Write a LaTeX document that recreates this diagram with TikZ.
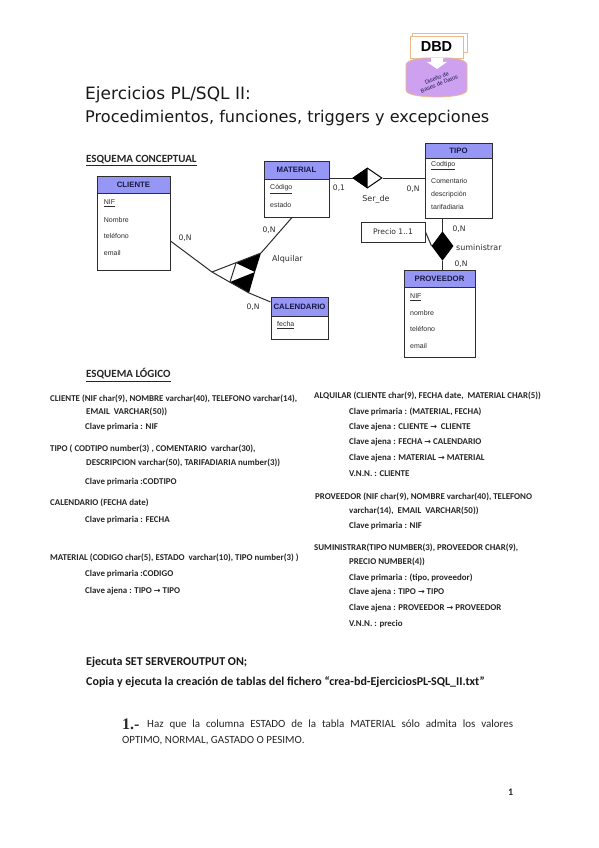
\documentclass[tikz,border=0pt]{standalone}
\usepackage{fontspec}
\setmainfont{Carlito}
\newfontfamily\arl{Liberation Sans}
\newfontfamily\vrd{DejaVu Sans}
\newfontfamily\srf{Liberation Serif}
\usetikzlibrary{shapes.geometric}
\definecolor{hdr}{RGB}{150,150,245}
\definecolor{navy}{RGB}{25,25,70}
\definecolor{ink}{RGB}{45,45,45}
\definecolor{logopur}{RGB}{205,160,240}
\definecolor{logoor}{RGB}{235,185,140}
\newcommand{\ar}{{\vrd\fontsize{8}{9}\selectfont →}}
\tikzset{
  entity/.style={draw=ink,line width=1pt,fill=white,inner sep=0},
  header/.style={draw=ink,line width=1pt,fill=hdr,inner sep=0,text=navy,font=\arl\bfseries\fontsize{7.8}{9}\selectfont},
  attr/.style={anchor=west,inner sep=0,text=ink,font=\arl\fontsize{7}{8}\selectfont},
  card/.style={inner sep=0,text=ink,font=\vrd\fontsize{7.6}{9}\selectfont},
  lbl/.style={anchor=west,inner sep=0,text=ink,font=\vrd\fontsize{8}{10}\selectfont},
  logic/.style={anchor=west,inner sep=0,text=black!85,text height=6pt,text depth=2pt,font=\bfseries\fontsize{8.9}{10}\selectfont},
  heading/.style={anchor=west,inner sep=0,text=black!85,font=\bfseries\fontsize{11}{13}\selectfont},
  main/.style={anchor=west,inner sep=0,text=black!90,text height=8pt,text depth=3pt,font=\bfseries\fontsize{12}{14}\selectfont},
  para/.style={anchor=west,inner sep=0,text=black!85,text height=7pt,text depth=2pt,font=\fontsize{11}{13}\selectfont},
  titletext/.style={anchor=west,inner sep=0,text=black!90,font=\vrd\fontsize{16.1}{19}\selectfont},
  conn/.style={draw=ink,line width=1pt},
  rel/.style={diamond,draw=black,line width=1pt,inner sep=0,fill=white}
}
\begin{document}
\begin{tikzpicture}[x=1pt,y=-1pt]
\useasboundingbox (0,0) rectangle (599,848);
\fill[white] (0,0) rectangle (599,848);

% logo
\path[fill=white,draw=logoor,line width=.8pt] (412,33) rectangle (467,52);
\node (sheet) [draw=logoor,fill=white,line width=.8pt,minimum width=53,minimum height=22,inner sep=0] at (436.5,47) {};
\path[fill=logopur,draw=logoor,line width=.8pt] (406,65) .. controls (406,60) and (420,58) .. (425,58) -- (449,58) .. controls (455,58) and (467,60) .. (467,65) -- (467,90) .. controls (467,96) and (445,97) .. (436.5,97) .. controls (428,97) and (406,96) .. (406,90) -- cycle;
\fill[white] (431,58) -- (431,62) -- (427,62) -- (437,69) -- (447,62) -- (443,62) -- (443,58) -- cycle;
\node (dbd) [inner sep=0,font=\arl\bfseries\fontsize{14.5}{16}\selectfont,text=black] at (436.5,47) {DBD};
\node (logotext) [inner sep=0,rotate=22,align=center,text=navy,font=\arl\fontsize{5.6}{6.6}\selectfont] at (438,81) {Diseño de\\Bases de Datos};

% title
\node (t1) [titletext,font=\vrd\fontsize{17}{19}\selectfont] at (85,95) {Ejercicios PL/SQL II:};
\node (t2) [titletext] at (85,118) {Procedimientos, funciones, triggers y excepciones};

\node (h1) [heading] at (86,161) {\underline{ESQUEMA CONCEPTUAL}};

% entities
\node (cliente) [entity,minimum width=73,minimum height=94] at (133.5,223) {};
\node (clienteh) [header,minimum width=73,minimum height=17] at (133.5,184.5) {CLIENTE};
\node (c1) [attr] at (103.7,203) {\underline{NIF}};
\node (c2) [attr] at (103.7,220) {Nombre};
\node (c3) [attr] at (103.7,236) {teléfono};
\node (c4) [attr] at (103.7,253) {email};

\node (material) [entity,minimum width=65,minimum height=56] at (296.5,189) {};
\node (materialh) [header,minimum width=65,minimum height=18] at (296.5,170) {MATERIAL};
\node (m1) [attr] at (270,189) {\underline{Código}};
\node (m2) [attr] at (270,205) {estado};

\node (calendario) [entity,minimum width=57,minimum height=42] at (299.5,318) {};
\node (calendarioh) [header,minimum width=57,minimum height=19] at (299.5,306.5) {CALENDARIO};
\node (k1) [attr] at (277,325) {\underline{fecha}};

\node (tipo) [entity,minimum width=67,minimum height=75] at (458.5,180.5) {};
\node (tipoh) [header,minimum width=67,minimum height=15] at (458.5,150.5) {TIPO};
\node (ti1) [attr] at (431,166) {\underline{Codtipo}};
\node (ti2) [attr] at (431,180.5) {Comentario};
\node (ti3) [attr] at (431,194.5) {descripción};
\node (ti4) [attr] at (431,207) {tarifadiaria};

\node (proveedor) [entity,minimum width=71,minimum height=87] at (439.5,313.5) {};
\node (proveedorh) [header,minimum width=71,minimum height=17] at (439.5,278.5) {PROVEEDOR};
\node (p1) [attr] at (410,297) {\underline{NIF}};
\node (p2) [attr] at (410,313) {nombre};
\node (p3) [attr] at (410,329) {teléfono};
\node (p4) [attr] at (410,346) {email};

\node (precio) [entity,minimum width=64,minimum height=20,font=\vrd\fontsize{7.6}{9}\selectfont,text=ink] at (393,232) {Precio 1..1};

% relationships
\node (serde) [rel,minimum width=29,minimum height=20,shape aspect=1.45] at (367.5,178) {};
\fill[black] (serde.north) -- (serde.west) -- (serde.south) -- cycle;
\node (sumi) [rel,fill=black,minimum width=21,minimum height=28,shape aspect=.75] at (442.5,246) {};

\draw[conn] (serde.west) -- (serde.west -| material.east);
\draw[conn] (serde.east) -- (serde.east -| tipo.west);
\draw[conn] (sumi.north) -- (sumi.north |- tipo.south);
\draw[conn] (sumi.south) -- (sumi.south |- proveedor.north);
\draw[conn] (precio.east) -- (sumi.west);

% ternary relationship
\coordinate (alqA) at (212,272);
\coordinate (alqB) at (261,253);
\coordinate (alqC) at (249,293);
\coordinate (alqM) at (255,272);
\coordinate (alqP) at (236,263);
\coordinate (alqQ) at (230,282);
\fill[black] (alqP) -- (alqB) -- (alqM) -- cycle;
\fill[black] (alqQ) -- (alqM) -- (alqC) -- cycle;
\draw[conn] (alqA) -- (alqB);
\draw[conn] (alqA) -- (alqC);
\draw[conn] (alqP) -- (alqQ);
\draw[conn] (cliente.-26) -- (alqA);
\draw[conn] (material.-99) -- (alqB);
\draw[conn] (calendario.151) -- (alqC);

% labels
\node (n1) [card] at (185,238) {0,N};
\node (n2) [card] at (269,230) {0,N};
\node (n3) [card] at (253,307) {0,N};
\node (n4) [card] at (339,188) {0,1};
\node (n5) [card] at (413,189) {0,N};
\node (n6) [card] at (459,229) {0,N};
\node (n7) [card] at (461,264) {0,N};
\node (alq) [lbl] at (272,259) {Alquilar};
\node (ser) [lbl,anchor=center] at (376,199) {Ser\_de};
\node (sum) [lbl] at (456,248) {suministrar};

% logical schema
\node (h2) [heading] at (86,375) {\underline{ESQUEMA LÓGICO}};
\node (l1) [logic] at (50,399) {CLIENTE (NIF char(9), NOMBRE varchar(40), TELEFONO varchar(14),};
\node (l2) [logic] at (86,412) {EMAIL\ \ VARCHAR(50))};
\node (l3) [logic] at (85,427) {Clave primaria : NIF};
\node (l4) [logic] at (50,449) {TIPO ( CODTIPO number(3) , COMENTARIO\ \ varchar(30),};
\node (l5) [logic] at (86,463) {DESCRIPCION varchar(50), TARIFADIARIA number(3))};
\node (l6) [logic] at (85,482) {Clave primaria :CODTIPO};
\node (l7) [logic] at (50,503) {CALENDARIO (FECHA date)};
\node (l8) [logic] at (85,520) {Clave primaria : FECHA};
\node (l9) [logic] at (50,558) {MATERIAL (CODIGO char(5), ESTADO\ \ varchar(10), TIPO number(3) )};
\node (l10) [logic] at (85,574) {Clave primaria :CODIGO};
\node (l11) [logic] at (85,591) {Clave ajena : TIPO \ar\ TIPO};

\node (r1) [logic] at (314,396) {ALQUILAR (CLIENTE char(9), FECHA date,\ \ MATERIAL CHAR(5))};
\node (r2) [logic] at (349,412) {Clave primaria : (MATERIAL, FECHA)};
\node (r3) [logic] at (349,427) {Clave ajena : CLIENTE \ar\ \ CLIENTE};
\node (r4) [logic] at (349,442) {Clave ajena : FECHA \ar\ CALENDARIO};
\node (r5) [logic] at (349,458) {Clave ajena : MATERIAL \ar\ MATERIAL};
\node (r6) [logic] at (349,474) {V.N.N. : CLIENTE};
\node (r7) [logic] at (315,497) {PROVEEDOR (NIF char(9), NOMBRE varchar(40), TELEFONO};
\node (r8) [logic] at (349,511) {varchar(14),\ \ EMAIL\ \ VARCHAR(50))};
\node (r9) [logic] at (349,526) {Clave primaria : NIF};
\node (r10) [logic] at (314,548) {SUMINISTRAR(TIPO NUMBER(3), PROVEEDOR CHAR(9),};
\node (r11) [logic] at (349,562) {PRECIO NUMBER(4))};
\node (r12) [logic] at (349,578) {Clave primaria : (tipo, proveedor)};
\node (r13) [logic] at (349,592) {Clave ajena : TIPO \ar\ TIPO};
\node (r14) [logic] at (349,608) {Clave ajena : PROVEEDOR \ar\ PROVEEDOR};
\node (r15) [logic] at (349,624) {V.N.N. : precio};

% bottom text
\node (b1) [main] at (86,663) {Ejecuta SET SERVEROUTPUT ON;};
\node (b2) [main] at (86,683) {Copia y ejecuta la creación de tablas del fichero “crea-bd-EjerciciosPL-SQL\_II.txt”};
\node (b3) [anchor=west,inner sep=0,font=\srf\bfseries\fontsize{16}{18}\selectfont,text=black!85] at (122,724) {1.-};
\node (b4) [para] at (147,725) {\makebox[366pt][s]{Haz que la columna ESTADO de la tabla MATERIAL sólo admita los valores}};
\node (b5) [para] at (122,741) {OPTIMO, NORMAL, GASTADO O PESIMO.};
\node (pg) [para,font=\bfseries\fontsize{10}{12}\selectfont] at (508,793) {1};
\end{tikzpicture}
\end{document}
